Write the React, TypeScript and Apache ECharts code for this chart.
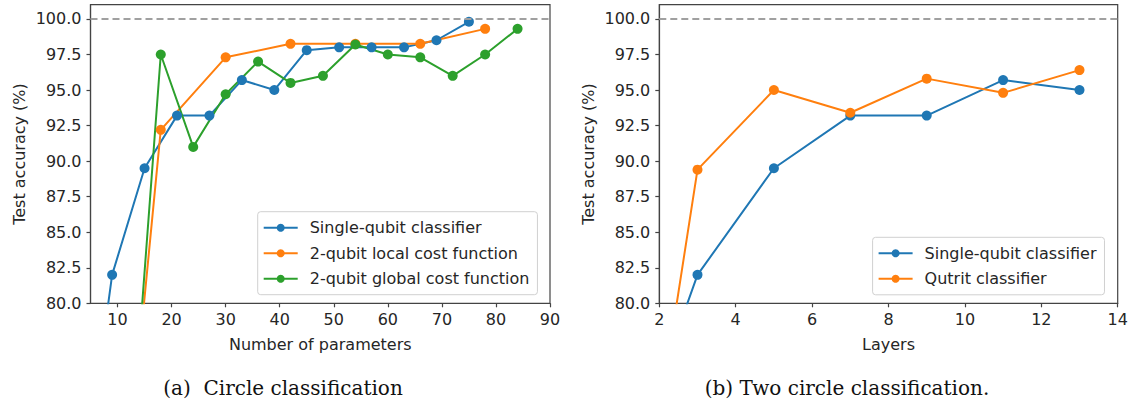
import React, { useEffect, useRef } from "react";
import * as echarts from "echarts";

// ---- data ----
const leftSingleX = [3, 9, 15, 21, 27, 33, 39, 45, 51, 57, 63, 69, 75];
const leftSingleY = [65.1, 82.0, 89.5, 93.2, 93.2, 95.7, 95.0, 97.8, 98.0, 98.0, 98.0, 98.5, 99.8];
const localX = [6, 18, 30, 42, 54, 66, 78];
const localY = [45.0, 92.2, 97.3, 98.25, 98.25, 98.25, 99.3];
const globalX = [12, 18, 24, 30, 36, 42, 48, 54, 60, 66, 72, 78, 84];
const globalY = [66.9, 97.5, 91.0, 94.7, 97.0, 95.5, 96.0, 98.2, 97.5, 97.3, 96.0, 97.5, 99.3];
const rightX = [1, 3, 5, 7, 9, 11, 13];
const rightSingleY = [66.9, 82.0, 89.5, 93.2, 93.2, 95.7, 95.0];
const qutritY = [54.8, 89.4, 95.0, 93.4, 95.8, 94.8, 96.4];

const yTicks = [80, 82.5, 85, 87.5, 90, 92.5, 95, 97.5, 100];
const leftXTicks = [10, 20, 30, 40, 50, 60, 70, 80, 90];
const rightXTicks = [2, 4, 6, 8, 10, 12, 14];
const referenceLine = 100;

const seriesNames = {
  single: "Single-qubit classifier",
  local: "2-qubit local cost function",
  global: "2-qubit global cost function",
  qutrit: "Qutrit classifier",
};

const BLUE = "#1f77b4";
const ORANGE = "#ff7f0e";
const GREEN = "#2ca02c";
const FONT = "DejaVu Sans";

const zip = (xs: number[], ys: number[]) => xs.map((x, i) => [x, ys[i]]);

export default function App() {
  const ref = useRef<HTMLDivElement>(null);
  useEffect(() => {
    document.body.style.margin = "0";
    if (!ref.current) return;
    const chart = echarts.init(ref.current, undefined, { renderer: "svg" });

    const axisLine = { show: true, lineStyle: { color: "#444", width: 1.2 } };
    const axisTick = (vals: number[]) => ({
      show: true,
      inside: false,
      length: 4,
      lineStyle: { color: "#444", width: 1.2 },
      customValues: vals,
    });
    const tickLabel = (vals: number[], fmt: (v: number) => string, margin: number) => ({
      show: true,
      customValues: vals,
      formatter: fmt,
      color: "#262626",
      fontFamily: FONT,
      fontSize: 16,
      margin,
    });
    const yAxis = (gridIndex: number) => ({
      type: "value",
      gridIndex,
      min: 80,
      max: 101,
      name: "Test accuracy (%)",
      nameLocation: "middle",
      nameGap: 63,
      nameTextStyle: { color: "#262626", fontFamily: FONT, fontSize: 16 },
      axisLine,
      axisTick: axisTick(yTicks),
      axisLabel: tickLabel(yTicks, (v: number) => v.toFixed(1), 9),
      splitLine: { show: false },
    });
    const xAxis = (gridIndex: number, min: number, max: number, ticks: number[], name: string) => ({
      type: "value",
      gridIndex,
      min,
      max,
      name,
      nameLocation: "middle",
      nameGap: 33,
      nameTextStyle: { color: "#262626", fontFamily: FONT, fontSize: 16 },
      axisLine,
      axisTick: axisTick(ticks),
      axisLabel: tickLabel(ticks, (v: number) => String(v), 8),
      splitLine: { show: false },
    });
    const markLine = {
      silent: true,
      symbol: ["none", "none"],
      label: { show: false },
      lineStyle: { type: [7, 4], color: "#a0a0a0", width: 2 },
      data: [{ yAxis: referenceLine }],
    };
    const line = (name: string, color: string, data: number[][], idx: number, ml?: any) => ({
      type: "line",
      name,
      xAxisIndex: idx,
      yAxisIndex: idx,
      data,
      symbol: "circle",
      symbolSize: 10,
      showSymbol: true,
      clip: true,
      itemStyle: { color },
      lineStyle: { color, width: 2 },
      emphasis: { disabled: true },
      ...(ml ? { markLine: ml } : {}),
    });
    const legendBase = {
      orient: "vertical",
      itemWidth: 34,
      itemHeight: 10,
      itemGap: 9.5,
      backgroundColor: "#fff",
      borderColor: "#d0d0d0",
      borderWidth: 1,
      borderRadius: 3,
      padding: [8, 8, 8, 5],
      textStyle: { color: "#262626", fontFamily: FONT, fontSize: 16, lineHeight: 16, padding: [0, 0, 0, 7] },
    };

    chart.setOption({
      animation: false,
      grid: [
        { left: 90.5, top: 4.7, width: 459.5, height: 298.6, show: true, borderColor: "#444", borderWidth: 1.2, backgroundColor: "transparent" },
        { left: 659.3, top: 4.7, width: 458.4, height: 298.6, show: true, borderColor: "#444", borderWidth: 1.2, backgroundColor: "transparent" },
      ],
      xAxis: [
        xAxis(0, 5, 90, leftXTicks, "Number of parameters"),
        xAxis(1, 2, 14, rightXTicks, "Layers"),
      ],
      yAxis: [yAxis(0), yAxis(1)],
      legend: [
        { ...legendBase, left: 257.7, top: 211.7, data: [seriesNames.single, seriesNames.local, seriesNames.global] },
        { ...legendBase, left: 872.6, top: 237.3, data: [seriesNames.single, seriesNames.qutrit] },
      ],
      series: [
        line(seriesNames.single, BLUE, zip(leftSingleX, leftSingleY), 0, markLine),
        line(seriesNames.local, ORANGE, zip(localX, localY), 0),
        line(seriesNames.global, GREEN, zip(globalX, globalY), 0),
        line(seriesNames.single, BLUE, zip(rightX, rightSingleY), 1, markLine),
        line(seriesNames.qutrit, ORANGE, zip(rightX, qutritY), 1),
      ],
      graphic: [
        {
          type: "text",
          x: 283,
          y: 387.5,
          style: {
            text: "(a)  Circle classification",
            font: '20px "DejaVu Serif"',
            fill: "#111",
            align: "center",
            verticalAlign: "middle",
            textAlign: "center",
            textVerticalAlign: "middle",
          },
        },
        {
          type: "text",
          x: 847,
          y: 387.5,
          style: {
            text: "(b) Two circle classification.",
            font: '20px "DejaVu Serif"',
            fill: "#111",
            align: "center",
            verticalAlign: "middle",
            textAlign: "center",
            textVerticalAlign: "middle",
          },
        },
      ],
    });
    return () => chart.dispose();
  }, []);
  return <div ref={ref} style={{ position: "absolute", left: 0, top: 0, width: 1131, height: 403 }} />;
}
